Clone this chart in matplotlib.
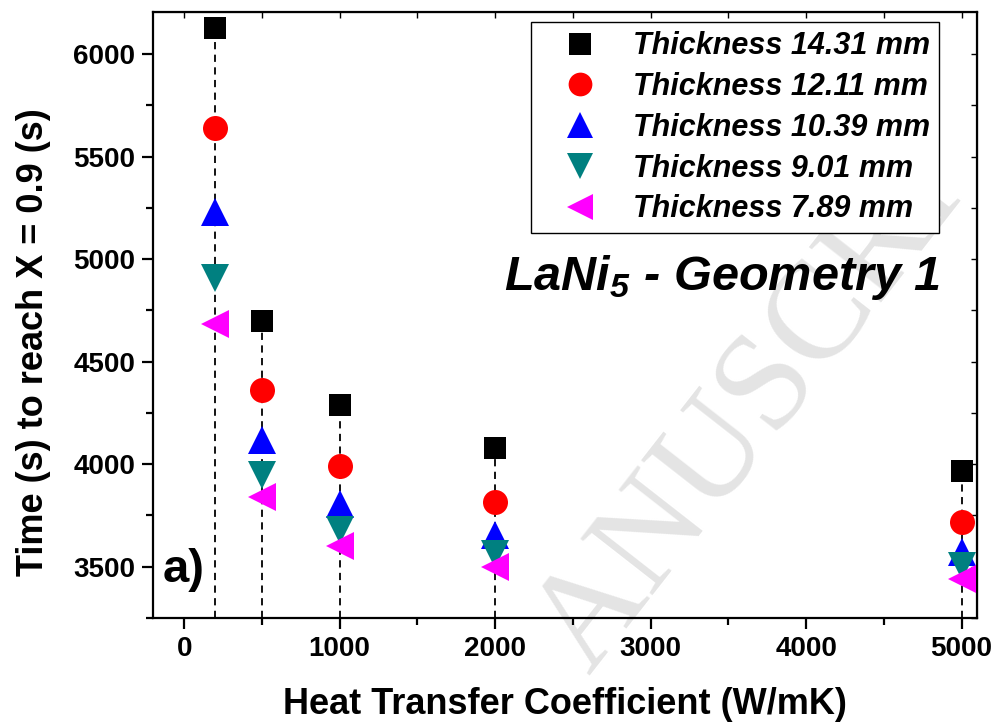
import numpy as np
import matplotlib
matplotlib.use("Agg")
from matplotlib import pyplot as plt
from matplotlib.ticker import MultipleLocator

plt.rcParams['font.family'] = ['Liberation Sans', 'DejaVu Sans']
plt.rcParams['mathtext.fontset'] = 'custom'
plt.rcParams['mathtext.rm'] = 'Liberation Sans:bold:italic'
plt.rcParams['mathtext.it'] = 'Liberation Sans:bold:italic'
plt.rcParams['mathtext.bf'] = 'Liberation Sans:bold:italic'

# heat transfer coefficient (W/mK)
h = [200, 500, 1000, 2000, 5000]

# time (s) to reach X = 0.9, one list per thickness
t_1431 = [6125, 4700, 4290, 4080, 3965]
t_1211 = [5640, 4360, 3990, 3815, 3720]
t_1039 = [5230, 4120, 3805, 3655, 3570]
t_901 = [4910, 3945, 3680, 3560, 3505]
t_789 = [4685, 3840, 3600, 3500, 3440]

labels = ['Thickness 14.31 mm', 'Thickness 12.11 mm', 'Thickness 10.39 mm',
          'Thickness 9.01 mm', 'Thickness 7.89 mm']

series = [t_1431, t_1211, t_1039, t_901, t_789]
styles = [('s', 'black', 16), ('o', 'red', 18), ('^', 'blue', 20),
          ('v', '#008080', 20), ('<', 'magenta', 20)]

fig = plt.figure(figsize=(9.94, 7.27), dpi=100)
ax = fig.add_axes([0.154, 0.150, 0.829, 0.8335])
ax.patch.set_alpha(0)

# faint watermark of the source document, behind the axes
fig.text(0.755, 0.43, 'ANUSCRI', rotation=52, ha='center', va='center',
         family='Liberation Serif', fontsize=100, color='#e4e4e4', zorder=-1)

ymin = 3250
# drop lines from the axis up to the highest point
tops = np.max(np.array(series), axis=0)
ax.vlines(h, ymin, tops, colors='black', linestyles=(0, (4, 3)), lw=1.3, zorder=1)

for vals, lab, (m, c, ms) in zip(series, labels, styles):
    ax.plot(h, vals, linestyle='none', marker=m, color=c, markersize=ms,
            markeredgewidth=0, label=lab, zorder=3)

ax.set_xlim(-200, 5100)
ax.set_ylim(ymin, 6205)
ax.xaxis.set_major_locator(MultipleLocator(1000))
ax.xaxis.set_minor_locator(MultipleLocator(500))
ax.yaxis.set_major_locator(MultipleLocator(500))
ax.yaxis.set_minor_locator(MultipleLocator(250))

for s in ax.spines.values():
    s.set_linewidth(1.6)
ax.tick_params(which='major', direction='out', length=8, width=1.6,
               labelsize=20, pad=5)
ax.tick_params(which='minor', direction='out', length=5, width=1.6)
for lab in ax.get_xticklabels() + ax.get_yticklabels():
    lab.set_fontweight('bold')

# inward ticks on top and right
ax2 = ax.secondary_xaxis('top')
ax2.xaxis.set_major_locator(MultipleLocator(1000))
ax2.xaxis.set_minor_locator(MultipleLocator(500))
ax2.tick_params(which='both', direction='in', length=4, width=1.0, labeltop=False)
ax3 = ax.secondary_yaxis('right')
ax3.yaxis.set_major_locator(MultipleLocator(500))
ax3.yaxis.set_minor_locator(MultipleLocator(250))
ax3.tick_params(which='both', direction='in', length=4, width=1.0, labelright=False)

ax.set_xlabel('Heat Transfer Coefficient (W/mK)', fontsize=26, fontweight='bold',
              labelpad=18)
ax.set_ylabel('Time (s) to reach X = 0.9 (s)', fontsize=26, fontweight='bold')
ax.yaxis.set_label_coords(-0.124, 0.455)

leg = ax.legend(loc='upper right', bbox_to_anchor=(0.954, 0.983), frameon=True,
                fancybox=False, edgecolor='black', framealpha=1,
                prop={'size': 22, 'weight': 'bold', 'style': 'italic'},
                handletextpad=0.43, borderpad=0.3, labelspacing=0.35,
                markerscale=0.95, handlelength=2.6, borderaxespad=0)
leg.get_frame().set_linewidth(1.0)

ax.text(0.955, 0.541, r'LaNi$_5$ - Geometry 1', transform=ax.transAxes,
        ha='right', va='baseline', fontsize=35, fontweight='bold', style='italic')
ax.text(0.012, 0.079, 'a)', transform=ax.transAxes, ha='left', va='center',
        fontsize=34, fontweight='bold')

fig.savefig('out.png', dpi=100)
